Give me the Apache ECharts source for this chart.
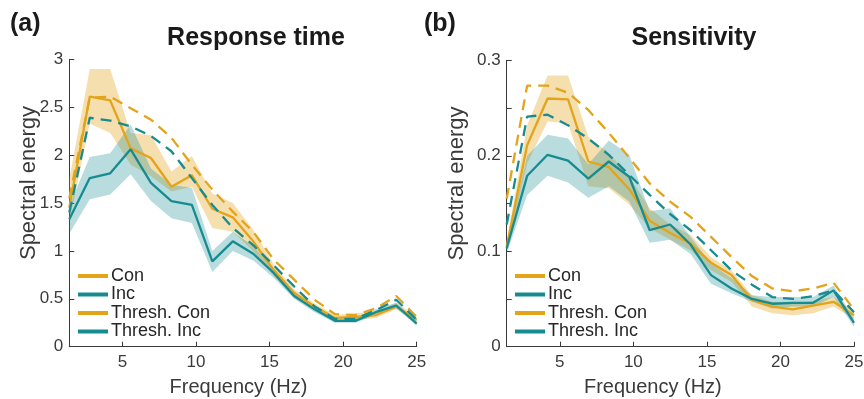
<!DOCTYPE html>
<html>
<head>
<meta charset="utf-8">
<script src="https://cdn.jsdelivr.net/npm/echarts@6/dist/echarts.min.js"></script>
<style>
  html, body { margin: 0; padding: 0; background: #fff; }
  #main { width: 864px; height: 399px; }
</style>
</head>
<body>
<div id="main"></div>
<script>
// frequency bins (Hz)
var freqs = [1.39, 2.78, 4.17, 5.56, 6.94, 8.33, 9.72, 11.11, 12.5, 13.89, 15.28, 16.67, 18.06, 19.44, 20.83, 22.22, 23.61, 25];
var xTicks = [5, 10, 15, 20, 25];

// (a) Response time
var rtCon     = [1.45, 2.61, 2.57, 2.07, 1.97, 1.67, 1.79, 1.44, 1.35, 1.10, 0.80, 0.56, 0.42, 0.30, 0.31, 0.33, 0.42, 0.28];
var rtConHi   = [1.75, 2.90, 2.90, 2.23, 2.21, 1.83, 1.99, 1.60, 1.50, 1.22, 0.86, 0.60, 0.45, 0.33, 0.35, 0.37, 0.46, 0.31];
var rtConLo   = [1.30, 2.33, 2.23, 1.90, 1.78, 1.62, 1.67, 1.24, 1.20, 1.00, 0.74, 0.52, 0.39, 0.28, 0.28, 0.30, 0.39, 0.26];
var rtInc     = [1.33, 1.76, 1.81, 2.06, 1.71, 1.52, 1.48, 0.89, 1.10, 0.97, 0.77, 0.53, 0.39, 0.27, 0.27, 0.36, 0.43, 0.24];
var rtIncHi   = [1.47, 1.98, 2.02, 2.32, 1.86, 1.69, 1.66, 1.00, 1.20, 1.05, 0.82, 0.58, 0.42, 0.30, 0.30, 0.39, 0.46, 0.27];
var rtIncLo   = [1.18, 1.54, 1.59, 1.80, 1.52, 1.34, 1.29, 0.78, 1.00, 0.90, 0.72, 0.50, 0.36, 0.25, 0.25, 0.33, 0.40, 0.22];
var rtThrCon  = [1.55, 2.60, 2.61, 2.49, 2.37, 2.18, 1.90, 1.64, 1.41, 1.20, 0.91, 0.70, 0.49, 0.34, 0.33, 0.40, 0.53, 0.31];
var rtThrInc  = [1.40, 2.39, 2.36, 2.30, 2.20, 2.04, 1.76, 1.48, 1.24, 1.06, 0.85, 0.63, 0.42, 0.29, 0.29, 0.38, 0.49, 0.28];
var rtYTicks  = [0, 0.5, 1, 1.5, 2, 2.5, 3];

// (b) Sensitivity
var seCon     = [0.105, 0.211, 0.260, 0.259, 0.194, 0.188, 0.165, 0.132, 0.119, 0.108, 0.088, 0.075, 0.049, 0.042, 0.039, 0.043, 0.047, 0.033];
var seConHi   = [0.110, 0.232, 0.284, 0.284, 0.220, 0.203, 0.178, 0.145, 0.128, 0.117, 0.094, 0.080, 0.054, 0.047, 0.045, 0.048, 0.052, 0.037];
var seConLo   = [0.100, 0.192, 0.236, 0.234, 0.168, 0.166, 0.149, 0.124, 0.112, 0.101, 0.080, 0.068, 0.042, 0.035, 0.033, 0.035, 0.042, 0.029];
var seInc     = [0.103, 0.179, 0.201, 0.195, 0.176, 0.194, 0.178, 0.122, 0.128, 0.107, 0.075, 0.061, 0.050, 0.045, 0.046, 0.046, 0.059, 0.025];
var seIncHi   = [0.108, 0.200, 0.222, 0.218, 0.191, 0.216, 0.201, 0.142, 0.145, 0.115, 0.087, 0.072, 0.054, 0.052, 0.052, 0.052, 0.064, 0.029];
var seIncLo   = [0.098, 0.159, 0.179, 0.172, 0.156, 0.168, 0.152, 0.109, 0.112, 0.097, 0.066, 0.056, 0.047, 0.040, 0.042, 0.042, 0.052, 0.021];
var seThrCon  = [0.155, 0.2735, 0.2735, 0.266, 0.248, 0.224, 0.198, 0.171, 0.152, 0.136, 0.115, 0.094, 0.074, 0.061, 0.058, 0.061, 0.067, 0.039];
var seThrInc  = [0.128, 0.241, 0.243, 0.232, 0.218, 0.201, 0.180, 0.159, 0.139, 0.122, 0.101, 0.080, 0.065, 0.052, 0.050, 0.053, 0.059, 0.036];
var seYTicks  = [0, 0.05, 0.1, 0.15, 0.2, 0.25, 0.3];
var seYLabels = [0, 0.1, 0.2, 0.3];

var names = ['Con', 'Inc', 'Thresh. Con', 'Thresh. Inc'];

var YELLOW = '#E3A41A';
var TEAL = '#168C91';
var AXIS = '#3a3a3a';
var FONT = '"Liberation Sans", Arial, sans-serif';

var chart = echarts.init(document.getElementById('main'), null, { renderer: 'canvas' });

// shaded error band, drawn as one polygon via the axis scales
function band(idx, lo, hi, color, alpha) {
    return {
        type: 'custom',
        xAxisIndex: idx,
        yAxisIndex: idx,
        silent: true,
        data: freqs.map(function (f, i) { return [f, lo[i], hi[i]]; }),
        encode: { x: 0, y: [1, 2] },
        renderItem: function (params, api) {
            if (params.dataIndex !== 0) return null;
            var top = [], bot = [];
            for (var i = 0; i < freqs.length; i++) {
                top.push(api.coord([freqs[i], hi[i]]));
                bot.unshift(api.coord([freqs[i], lo[i]]));
            }
            return {
                type: 'polygon',
                shape: { points: top.concat(bot) },
                style: { fill: color, opacity: alpha }
            };
        }
    };
}

function line(idx, name, vals, color, dashed) {
    return {
        name: name,
        type: 'line',
        xAxisIndex: idx,
        yAxisIndex: idx,
        data: freqs.map(function (f, i) { return [f, vals[i]]; }),
        showSymbol: false,
        silent: true,
        itemStyle: { color: color },
        lineStyle: { color: color, width: 2.3, type: dashed ? [11, 7] : 'solid' }
    };
}

function xAxis(idx, shift) {
    return {
        type: 'value',
        gridIndex: idx,
        min: freqs[0],
        max: 25,
        name: 'Frequency (Hz)',
        nameLocation: 'middle',
        nameGap: 31,
        nameTextStyle: { fontFamily: FONT, fontSize: 20, color: AXIS, padding: [0, shift, 0, 0] },
        axisLine: { lineStyle: { color: AXIS, width: 1 } },
        axisTick: { inside: true, length: 5, customValues: xTicks, lineStyle: { color: AXIS } },
        axisLabel: { customValues: xTicks, margin: 7, fontFamily: FONT, fontSize: 17, color: AXIS },
        splitLine: { show: false }
    };
}

function yAxis(idx, max, ticks, labels, gap) {
    return {
        type: 'value',
        gridIndex: idx,
        min: 0,
        max: max,
        name: 'Spectral energy',
        nameLocation: 'middle',
        nameGap: gap,
        nameMoveOverlap: false,
        nameTextStyle: { fontFamily: FONT, fontSize: 22, color: AXIS, padding: [0, 0, 0, 40] },
        axisLine: { show: true, lineStyle: { color: AXIS, width: 1 } },
        axisTick: { show: true, inside: true, length: 5, customValues: ticks, lineStyle: { color: AXIS } },
        axisLabel: { customValues: labels, margin: 6, fontFamily: FONT, fontSize: 17, color: AXIS },
        splitLine: { show: false }
    };
}

function legend(left) {
    return {
        data: names,
        orient: 'vertical',
        left: left,
        top: 267,
        padding: 0,
        itemGap: 0.5,
        itemWidth: 30,
        itemHeight: 4,
        icon: 'rect',
        selectedMode: false,
        textStyle: { fontFamily: FONT, fontSize: 18, color: '#262626', lineHeight: 18, padding: [0, 0, 0, -2] }
    };
}

var option = {
    animation: false,
    backgroundColor: '#fff',
    grid: [
        { left: 69.3, top: 59.3, width: 347.4, height: 287.4, containLabel: false, outerBoundsMode: 'none' },
        { left: 506.7, top: 60.3, width: 347.3, height: 286.4, containLabel: false, outerBoundsMode: 'none' }
    ],
    xAxis: [xAxis(0, 9), xAxis(1, 55)],
    yAxis: [yAxis(0, 3, rtYTicks, rtYTicks, 29), yAxis(1, 0.3, seYTicks, seYLabels, 39)],
    legend: [legend(78), legend(515)],
    graphic: [
        { type: 'text', left: 10, top: 12, style: { text: '(a)', font: 'bold 25px ' + FONT, fill: '#1a1a1a' } },
        { type: 'text', left: 424, top: 12, style: { text: '(b)', font: 'bold 25px ' + FONT, fill: '#1a1a1a' } },
        { type: 'text', x: 256, y: 38, style: { text: 'Response time', font: 'bold 25px ' + FONT, fill: '#1a1a1a', align: 'center', verticalAlign: 'middle' } },
        { type: 'text', x: 694, y: 38, style: { text: 'Sensitivity', font: 'bold 25px ' + FONT, fill: '#1a1a1a', align: 'center', verticalAlign: 'middle' } }
    ],
    series: [
        band(0, rtConLo, rtConHi, YELLOW, 0.35),
        band(0, rtIncLo, rtIncHi, TEAL, 0.3),
        line(0, 'Con', rtCon, YELLOW, false),
        line(0, 'Inc', rtInc, TEAL, false),
        line(0, 'Thresh. Con', rtThrCon, YELLOW, true),
        line(0, 'Thresh. Inc', rtThrInc, TEAL, true),

        band(1, seConLo, seConHi, YELLOW, 0.35),
        band(1, seIncLo, seIncHi, TEAL, 0.3),
        line(1, 'Con', seCon, YELLOW, false),
        line(1, 'Inc', seInc, TEAL, false),
        line(1, 'Thresh. Con', seThrCon, YELLOW, true),
        line(1, 'Thresh. Inc', seThrInc, TEAL, true)
    ]
};

chart.setOption(option);
</script>
</body>
</html>
